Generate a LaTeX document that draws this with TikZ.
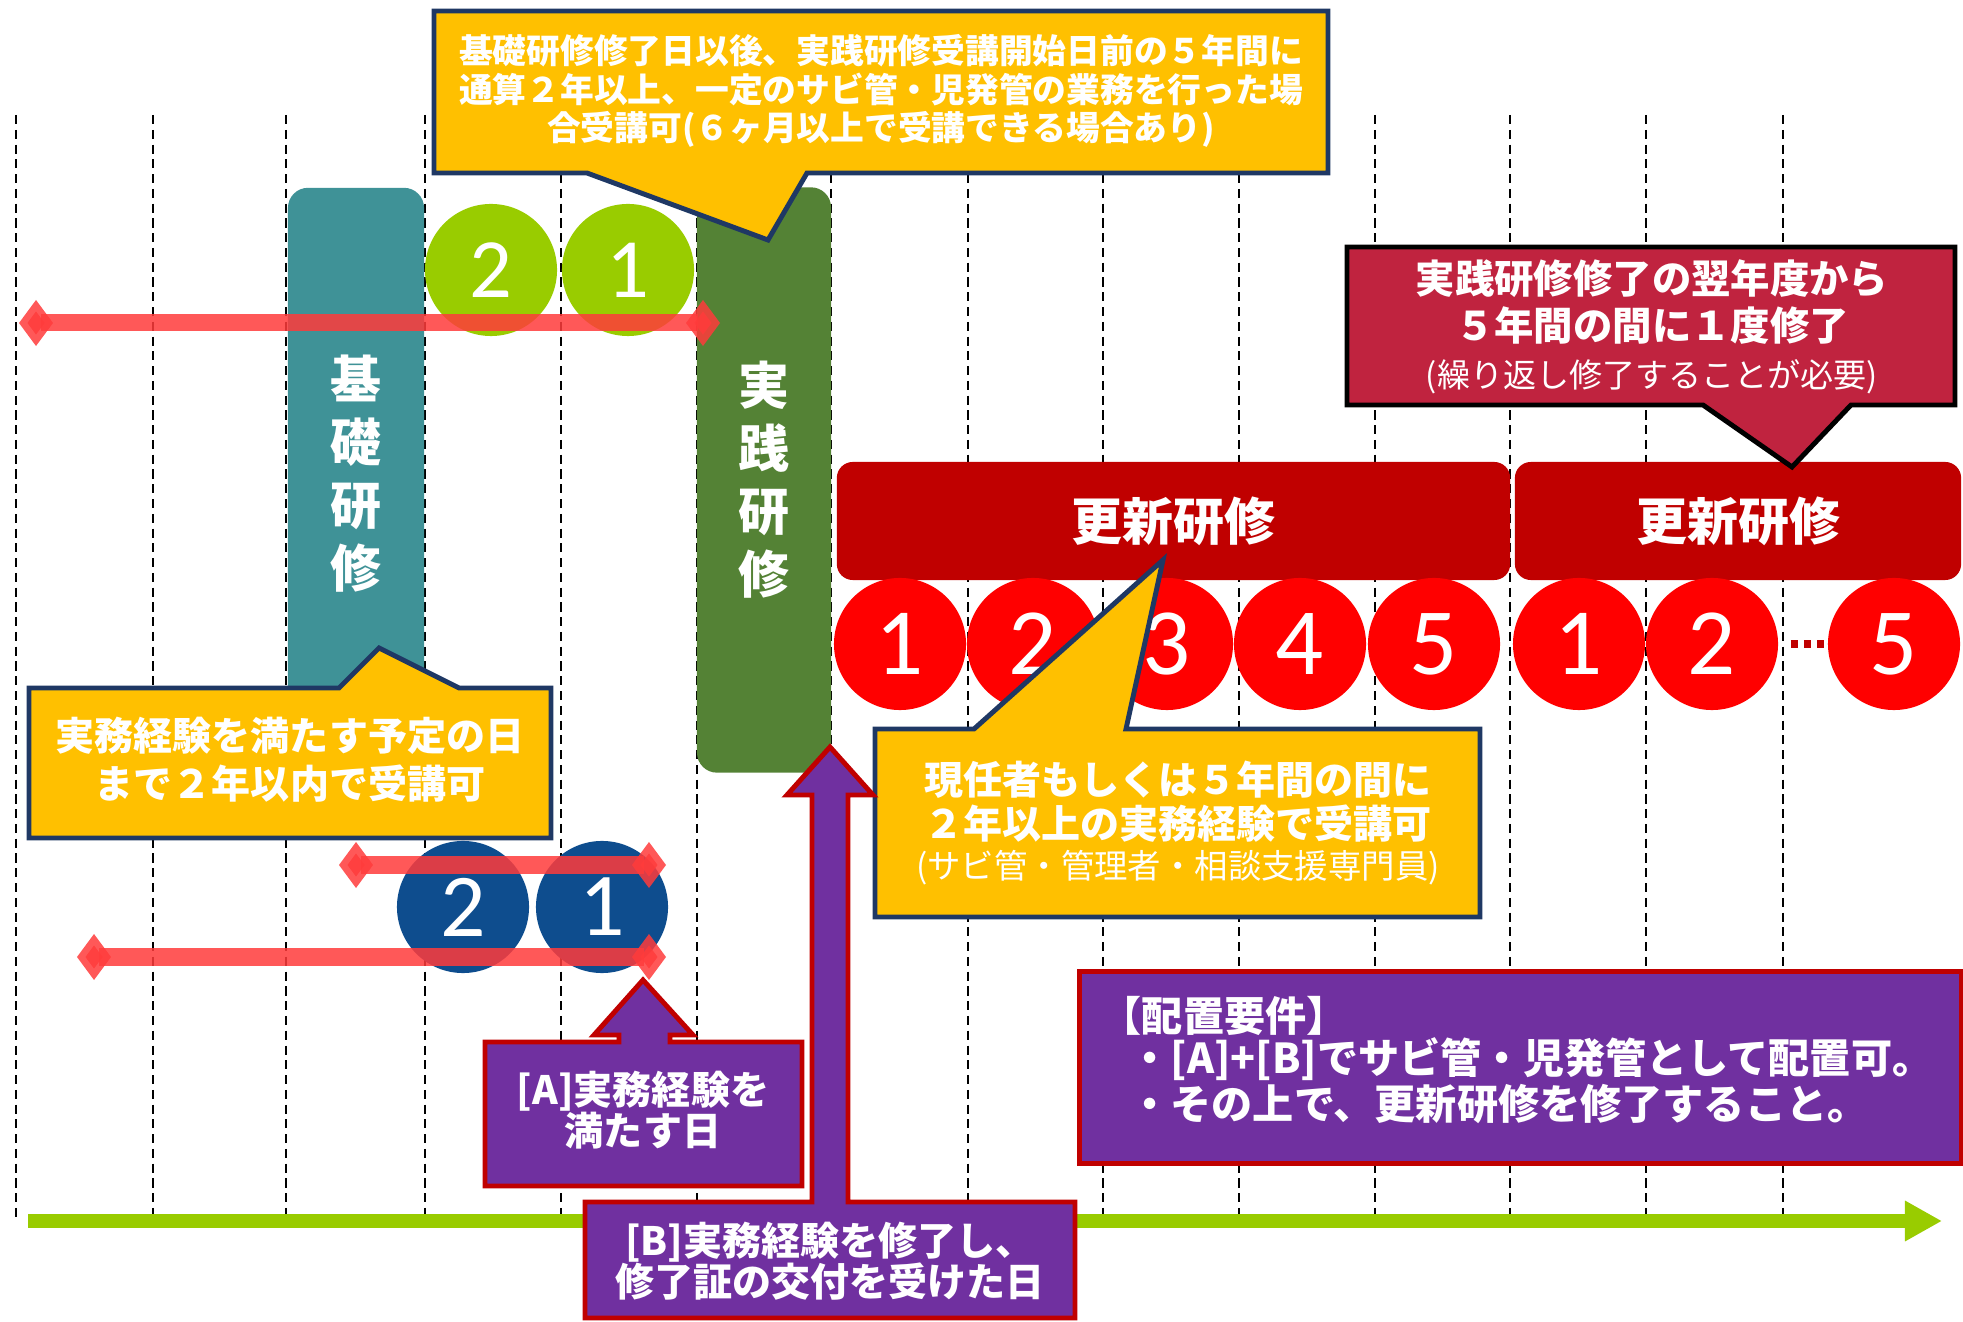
\documentclass[tikz,border=0pt]{standalone}
\usepackage{fontspec}
\setmainfont{Noto Sans CJK JP}
\newfontfamily\digitfont{Carlito}
\usepackage{tikz}
\usetikzlibrary{arrows.meta}
\usepackage{xcolor}
\definecolor{calloutyellow}{HTML}{FFC000}
\definecolor{calloutnavy}{HTML}{1F3864}
\definecolor{kisoteal}{HTML}{3F9297}
\definecolor{jissengreen}{HTML}{548235}
\definecolor{yeargreen}{HTML}{99CC00}
\definecolor{yearblue}{HTML}{0E4D8E}
\definecolor{yearred}{HTML}{FF0000}
\definecolor{koushinred}{HTML}{C00000}
\definecolor{noticecrimson}{HTML}{C0233F}
\definecolor{reqpurple}{HTML}{7030A0}
\definecolor{spanred}{HTML}{FF3B3B}
\tikzset{
  grid line/.style={black, line width=0.6pt, dash pattern=on 2.6pt off 1.6pt},
  time axis/.style={yeargreen, line width=0.13cm, -{Triangle[length=0.37cm,width=0.38cm]}},
  course bar/.style={rounded corners=0.2cm, text=white, align=center, inner sep=0pt,
    font=\bfseries\fontsize{14.5}{17.9}\selectfont},
  year circle/.style={circle, minimum size=1.32cm, inner sep=0pt, text=white,
    font=\digitfont\fontsize{27}{27}\selectfont},
  span line/.style={spanred, opacity=0.85, line width=0.17cm,
    {Diamond[length=0.34cm,width=0.46cm]}-{Diamond[length=0.34cm,width=0.46cm]}},
  yellow callout/.style={fill=calloutyellow, draw=calloutnavy, line width=1.4pt},
  purple shape/.style={fill=reqpurple, draw=koushinred, line width=1.4pt},
  callout text/.style={text=white, align=center, font=\bfseries\fontsize{11.1}{12.8}\selectfont},
}
\newcommand{\yearcircle}[4][fill=yearred]{\node[year circle, #1] (#2) at (#3) {#4};}

\begin{document}
\begin{tikzpicture}[x=0.01cm, y=-0.01cm]
        \useasboundingbox (0,0) rectangle (1963,1322);
        \foreach \x in {16,153,286,425,561,697,831,968,1103,1239,1375,1510,1646,1783}
          {\draw[grid line] (\x,115) -- (\x,1222);}
        \coordinate (t0) at (28,1221);
        \coordinate (t1) at (1942,1221);
        \draw[time axis] (t0) -- (t1);

        \node[course bar, fill=kisoteal, minimum width=1.36cm, minimum height=5.72cm] (kiso) at (356,474) {基\\礎\\研\\修};
        \node[course bar, fill=jissengreen, minimum width=1.34cm, minimum height=5.85cm] (jissen) at (764,480) {実\\践\\研\\修};
        \yearcircle[fill=yeargreen, font=\digitfont\fontsize{24}{24}\selectfont]{g2}{491,270}{2}
        \yearcircle[fill=yeargreen, font=\digitfont\fontsize{24}{24}\selectfont]{g1}{628,270}{1}
        \coordinate (s1) at (19,323);
        \coordinate (e1) at (720,323);
        \draw[span line] (s1) -- (e1);

        \draw[yellow callout] (434,11) -- (1328,11) -- (1328,173) -- (807,173) -- (768,240) -- (587,173) -- (434,173) -- cycle;
        \node[callout text, font=\bfseries\fontsize{9.6}{10.9}\selectfont] (kisonote) at (881,91)
          {基礎研修修了日以後、実践研修受講開始日前の５年間に\\通算２年以上、一定のサビ管・児発管の業務を行った場\\合受講可(６ヶ月以上で受講できる場合あり)};

        \node[course bar, fill=koushinred, rounded corners=0.16cm, minimum width=6.73cm, minimum height=1.18cm] (koushin1) at (1173.5,521) {更新研修};
        \node[course bar, fill=koushinred, rounded corners=0.16cm, minimum width=4.46cm, minimum height=1.18cm] (koushin2) at (1738,521) {更新研修};
        \foreach \x/\d/\nm in {900/1/ka,1033/2/kb,1167/3/kc,1300/4/kd,1434/5/ke,1579/1/la,1712/2/lb,1894/5/le}
          {\yearcircle{\nm}{\x,644}{\d}}
        \draw[koushinred, line width=2pt, dash pattern=on 2pt off 1.7pt, shorten <=0.12cm] (lb) -- (le);

        \draw[fill=noticecrimson, draw=black, line width=1.4pt] (1347,247) -- (1955,247) -- (1955,405) -- (1851,405) -- (1792,467) -- (1703,405) -- (1347,405) -- cycle;
        \node[callout text, font=\bfseries\fontsize{11.2}{13.3}\selectfont] (renewnote) at (1652,327)
          {実践研修修了の翌年度から\\５年間の間に１度修了\\{\mdseries\fontsize{9.4}{11}\selectfont (繰り返し修了することが必要)}};

        \draw[yellow callout] (875,729) -- (974,729) -- (1163,560) -- (1126,729) -- (1480,729) -- (1480,917) -- (875,917) -- cycle;
        \node[callout text, font=\bfseries\fontsize{11.1}{12.5}\selectfont] (koushinnote) at (1178,823)
          {現任者もしくは５年間の間に\\２年以上の実務経験で受講可\\[-1pt]{\mdseries\fontsize{9.5}{11}\selectfont (サビ管・管理者・相談支援専門員)}};

        \draw[yellow callout] (29,688) -- (339,688) -- (379,648) -- (459,688) -- (551,688) -- (551,838) -- (29,838) -- cycle;
        \node[callout text, font=\bfseries\fontsize{11.1}{13.6}\selectfont] (jitsumunote) at (290,760) {実務経験を満たす予定の日\\まで２年以内で受講可};

        \yearcircle[fill=yearblue, font=\digitfont\fontsize{25.5}{25.5}\selectfont]{b2}{463,907}{2}
        \yearcircle[fill=yearblue, font=\digitfont\fontsize{25.5}{25.5}\selectfont]{b1}{602,907}{1}
        \coordinate (s2) at (339,865);
        \coordinate (e2) at (666,865);
        \coordinate (s3) at (77,957);
        \coordinate (e3) at (666,957);
        \draw[span line] (s2) -- (e2);
        \draw[span line] (s3) -- (e3);

        \draw[purple shape] (485,1042) -- (619,1042) -- (619,1035) -- (594,1035) -- (643,980) -- (693,1035) -- (670,1035) -- (670,1042) -- (802,1042) -- (802,1186) -- (485,1186) -- cycle;
        \node[callout text, font=\bfseries\fontsize{11.1}{11.7}\selectfont] (dayA) at (643,1110) {[A]実務経験を\\満たす日};
        \draw[purple shape] (585,1202) -- (812,1202) -- (812,795) -- (787,795) -- (830,747) -- (873,795) -- (848,795) -- (848,1202) -- (1075,1202) -- (1075,1318) -- (585,1318) -- cycle;
        \node[callout text, font=\bfseries\fontsize{11.1}{11.6}\selectfont] (dayB) at (830,1261) {[B]実務経験を修了し、\\修了証の交付を受けた日};

        \node[purple shape, minimum width=8.81cm, minimum height=1.91cm] (haichi) at (1520.5,1067.5) {};
        \node[text=white, align=left, font=\bfseries\fontsize{11.7}{12}\selectfont] (haichitext) at (1517,1060)
          {【配置要件】\\\hspace*{0.7em}・[A]+[B]でサビ管・児発管として配置可。\\\hspace*{0.7em}・その上で、更新研修を修了すること。};
\end{tikzpicture}
\end{document}
